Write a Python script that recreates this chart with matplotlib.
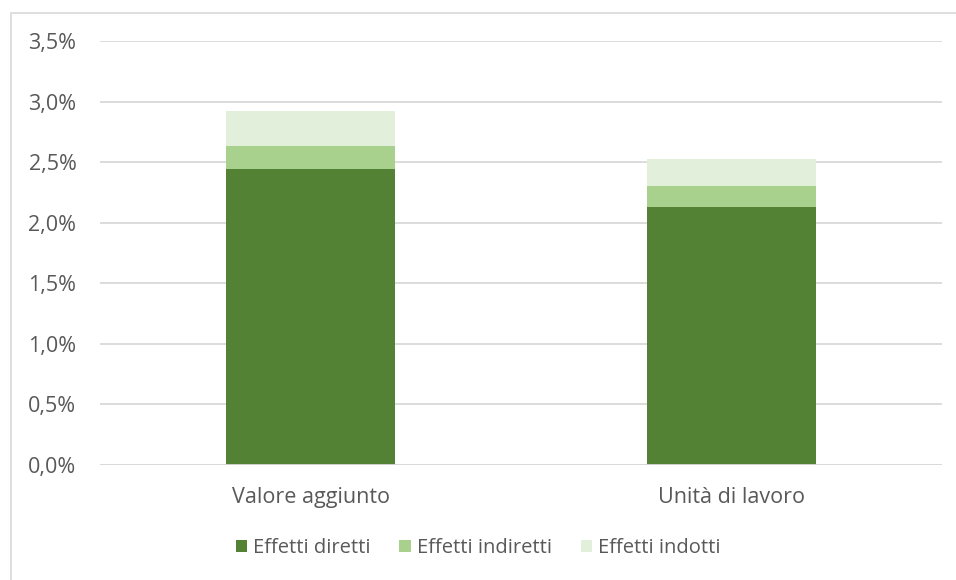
import matplotlib
matplotlib.use('Agg')
import matplotlib.pyplot as plt
from matplotlib.patches import Rectangle, Patch
from matplotlib.ticker import FuncFormatter, MultipleLocator
import numpy as np

plt.rcParams['font.family'] = ['Open Sans', 'DejaVu Sans']

categories = ['Valore aggiunto', 'Unità di lavoro']
series_names = ['Effetti diretti', 'Effetti indiretti', 'Effetti indotti']
diretti = [2.44, 2.13]
indiretti = [0.19, 0.17]
indotti = [0.295, 0.23]
colors = ['#548235', '#A9D18E', '#E2EFDA']
text_col = '#595959'

W, H = 956, 580
fig = plt.figure(figsize=(W / 100, H / 100), dpi=100)
ax = fig.add_axes([100 / W, 1 - 465 / H, 842 / W, 424 / H])

# outer chart border (only left and top visible in the crop)
fig.patches.append(Rectangle((10.5 / W, -0.1), 1.2, 1.1 - 12.5 / H,
                             transform=fig.transFigure, fill=False,
                             edgecolor='#D9D9D9', linewidth=1.2))

x = np.arange(len(categories))
bottom = np.zeros(len(categories))
for vals, c, name in zip([diretti, indiretti, indotti], colors, series_names):
    ax.bar(x, vals, width=0.4, bottom=bottom, color=c, label=name, zorder=3)
    bottom += np.array(vals)

ax.set_xlim(-0.5, 1.5)
ax.set_ylim(0, 3.5)
ax.yaxis.set_major_locator(MultipleLocator(0.5))
ax.yaxis.set_major_formatter(FuncFormatter(lambda v, p: f"{v:.1f}%".replace('.', ',')))
ax.grid(axis='y', color='#D9D9D9', linewidth=1.3, zorder=0)
for s in ['top', 'right', 'left', 'bottom']:
    ax.spines[s].set_visible(False)
ax.axhline(0, color='#D9D9D9', linewidth=1.3, zorder=4)
ax.set_xticks(x)
ax.set_xticklabels(categories)
ax.tick_params(axis='both', length=0, labelsize=15.5, colors=text_col)
ax.tick_params(axis='y', pad=17)
ax.tick_params(axis='x', pad=16)

handles = [Patch(facecolor=c, edgecolor='none') for c in colors]
leg = fig.legend(handles, series_names, loc='center', ncol=3,
                 bbox_to_anchor=(0.5, 1 - 548 / H), frameon=False,
                 fontsize=14.5, handlelength=0.55, handleheight=0.55,
                 handletextpad=0.3, columnspacing=1.45)
for t in leg.get_texts():
    t.set_color(text_col)

fig.savefig('out.png', dpi=100)
